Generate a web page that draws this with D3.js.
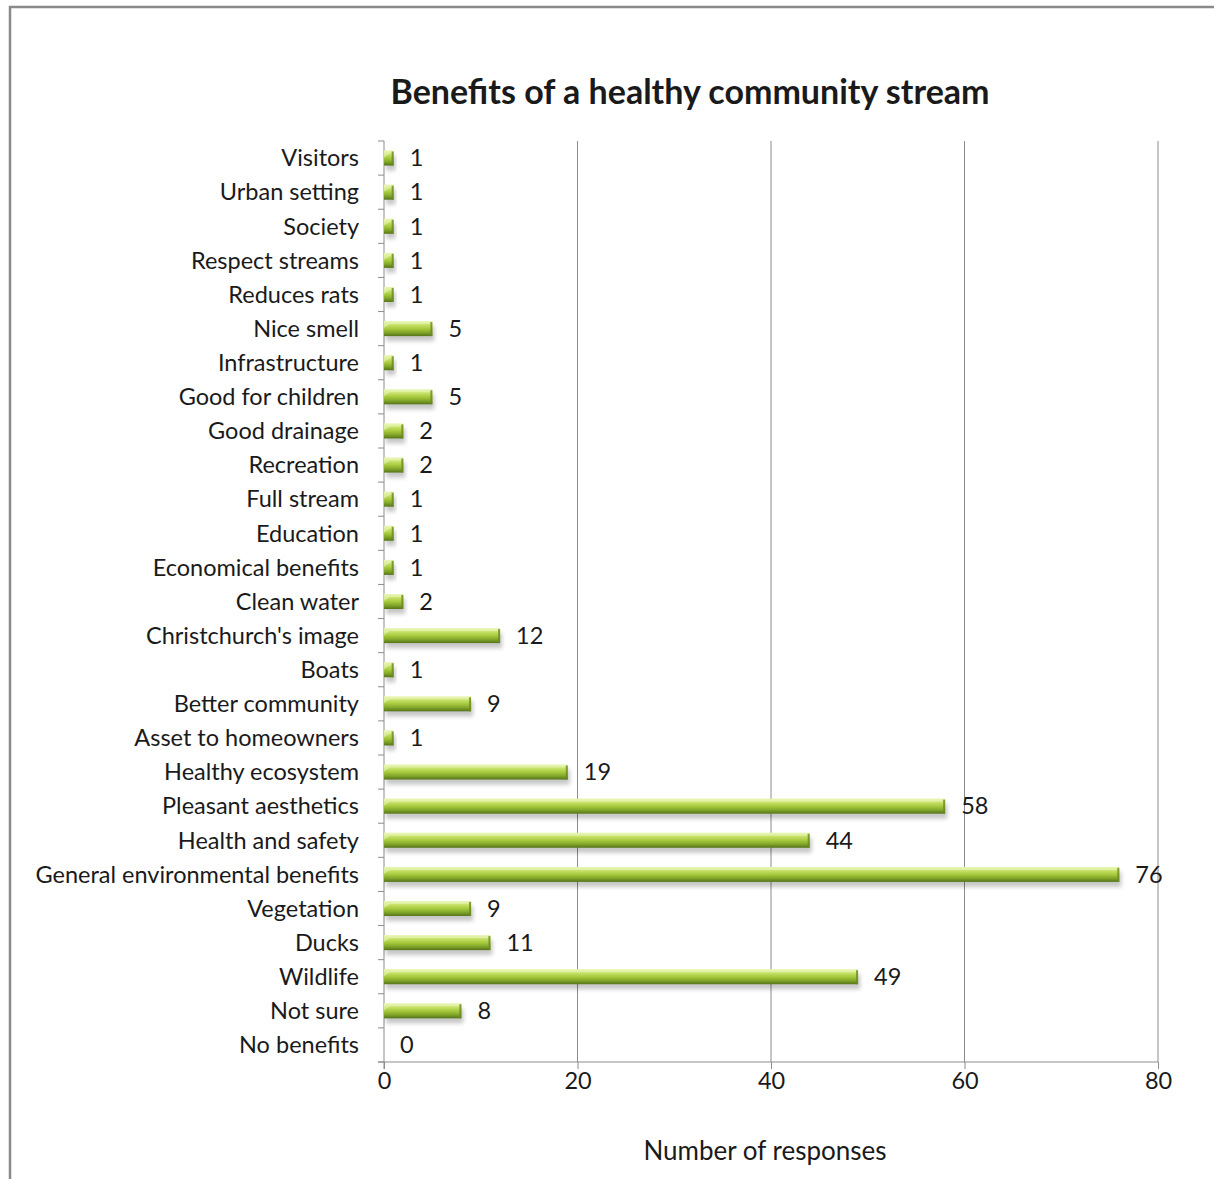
<!DOCTYPE html>
<html>
<head>
<meta charset="utf-8">
<script src="https://cdn.jsdelivr.net/npm/d3@7"></script>
<style>
  html, body { margin: 0; padding: 0; background: #fff; }
  svg { display: block; }
  text { font-family: Lato, "Open Sans", sans-serif; fill: #1a1a1a; }
</style>
</head>
<body>
<svg id="chart" width="1214" height="1179"></svg>
<script>
// Survey answers, listed top to bottom as they appear on the category axis
const categories = [
  "Visitors", "Urban setting", "Society", "Respect streams", "Reduces rats",
  "Nice smell", "Infrastructure", "Good for children", "Good drainage", "Recreation",
  "Full stream", "Education", "Economical benefits", "Clean water", "Christchurch's image",
  "Boats", "Better community", "Asset to homeowners", "Healthy ecosystem", "Pleasant aesthetics",
  "Health and safety", "General environmental benefits", "Vegetation", "Ducks", "Wildlife",
  "Not sure", "No benefits"
];
const responses = [
  1, 1, 1, 1, 1,
  5, 1, 5, 2, 2,
  1, 1, 1, 2, 12,
  1, 9, 1, 19, 58,
  44, 76, 9, 11, 49,
  8, 0
];
const xTicks = [0, 20, 40, 60, 80];
const chartTitle = "Benefits of a healthy community stream";
const xAxisTitle = "Number of responses";

const svg = d3.select("#chart");
const labelSize = 23.5;

// outer chart frame
svg.append("rect")
  .attr("x", 10).attr("y", 7)
  .attr("width", 1240).attr("height", 1200)
  .attr("fill", "#fff")
  .attr("stroke", "#8a8a8a").attr("stroke-width", 2.5);

const plot = { left: 384, right: 1158, top: 141, bottom: 1062 };

const x = d3.scaleLinear().domain([0, 80]).range([plot.left, plot.right]);
const y = d3.scaleBand().domain(categories).range([plot.top, plot.bottom]).paddingInner(0).paddingOuter(0);

const defs = svg.append("defs");
const grad = defs.append("linearGradient")
  .attr("id", "barGrad").attr("x1", 0).attr("y1", 0).attr("x2", 0).attr("y2", 1);
[
  [0, "#e4f4a6"], [0.2, "#cde672"], [0.5, "#a8ca3e"], [0.75, "#83a72a"], [1, "#55741a"]
].forEach(([o, c]) => grad.append("stop").attr("offset", o).attr("stop-color", c));

const shadow = defs.append("filter").attr("id", "barShadow")
  .attr("x", "-5%").attr("y", "-50%").attr("width", "115%").attr("height", "250%");
shadow.append("feGaussianBlur").attr("stdDeviation", 2.2);

// vertical gridlines
svg.append("g")
  .selectAll("line")
  .data(xTicks.filter(t => t > 0))
  .join("line")
  .attr("x1", d => x(d)).attr("x2", d => x(d))
  .attr("y1", plot.top).attr("y2", plot.bottom)
  .attr("stroke", "#8c8c8c").attr("stroke-width", 1);

// bottom axis
const xAxis = d3.axisBottom(x).tickValues(xTicks).tickSize(7).tickPadding(3).tickFormat(d3.format("d"));
const gx = svg.append("g").attr("transform", `translate(0,${plot.bottom})`).call(xAxis);
gx.select(".domain").attr("stroke", "#8c8c8c").attr("d", `M${plot.left - 6},0H${plot.right}`);
gx.selectAll(".tick line").attr("stroke", "#8c8c8c");
gx.selectAll(".tick text").attr("font-size", labelSize).attr("fill", "#1a1a1a")
  .style("font-family", "Lato, 'Open Sans', sans-serif");

// left axis: ticks sit on the band boundaries
const boundaries = d3.range(categories.length + 1).map(i => plot.top + i * y.step());
const gy = svg.append("g");
gy.append("line")
  .attr("x1", plot.left).attr("x2", plot.left)
  .attr("y1", plot.top).attr("y2", plot.bottom + 7)
  .attr("stroke", "#8c8c8c");
gy.selectAll("line.tk").data(boundaries).join("line").attr("class", "tk")
  .attr("x1", plot.left - 6).attr("x2", plot.left)
  .attr("y1", d => d).attr("y2", d => d)
  .attr("stroke", "#8c8c8c");
gy.selectAll("text").data(categories).join("text")
  .attr("x", plot.left - 25)
  .attr("y", d => y(d) + y.bandwidth() / 2)
  .attr("dy", "0.35em")
  .attr("text-anchor", "end")
  .attr("font-size", labelSize)
  .text(d => d);

// bars
const barH = 15;
const rows = categories.map((c, i) => ({ c, v: responses[i] }));
const bars = svg.append("g");
const barY = d => y(d.c) + y.bandwidth() / 2 - barH / 2;
const shown = rows.filter(d => d.v > 0);

bars.selectAll("rect.shadow").data(shown).join("rect").attr("class", "shadow")
  .attr("x", x(0) + 2).attr("y", d => barY(d) + 5)
  .attr("width", d => x(d.v) - x(0)).attr("height", barH)
  .attr("fill", "#000").attr("opacity", 0.22)
  .attr("filter", "url(#barShadow)");

bars.selectAll("rect.bar").data(shown).join("rect").attr("class", "bar")
  .attr("x", x(0)).attr("y", barY)
  .attr("width", d => x(d.v) - x(0)).attr("height", barH)
  .attr("fill", "url(#barGrad)");

// bevel highlight along the top face
bars.selectAll("path.face").data(shown).join("path").attr("class", "face")
  .attr("d", d => {
    const x0 = x(0), x1 = x(d.v), y0 = barY(d);
    return `M${x0},${y0 + 7}L${x0 + 6},${y0 + 3}L${x1 - 2},${y0 + 3}L${x1 - 2},${y0}L${x0},${y0}Z`;
  })
  .attr("fill", "#eef8c8").attr("opacity", 0.5);

// darker end cap
bars.selectAll("rect.cap").data(shown).join("rect").attr("class", "cap")
  .attr("x", d => x(d.v) - 2).attr("y", d => barY(d) + 1)
  .attr("width", 2).attr("height", barH - 1)
  .attr("fill", "#6b8a22").attr("opacity", 0.8);

// data labels
svg.append("g").selectAll("text").data(rows).join("text")
  .attr("x", d => x(d.v) + 16)
  .attr("y", d => y(d.c) + y.bandwidth() / 2)
  .attr("dy", "0.35em")
  .attr("font-size", labelSize)
  .text(d => d.v);

// titles
svg.append("text")
  .attr("x", 690).attr("y", 104)
  .attr("text-anchor", "middle")
  .attr("font-size", 34).attr("font-weight", "bold")
  .attr("fill", "#000")
  .text(chartTitle);

svg.append("text")
  .attr("x", 765).attr("y", 1160)
  .attr("text-anchor", "middle")
  .attr("font-size", 26)
  .text(xAxisTitle);
</script>
</body>
</html>
